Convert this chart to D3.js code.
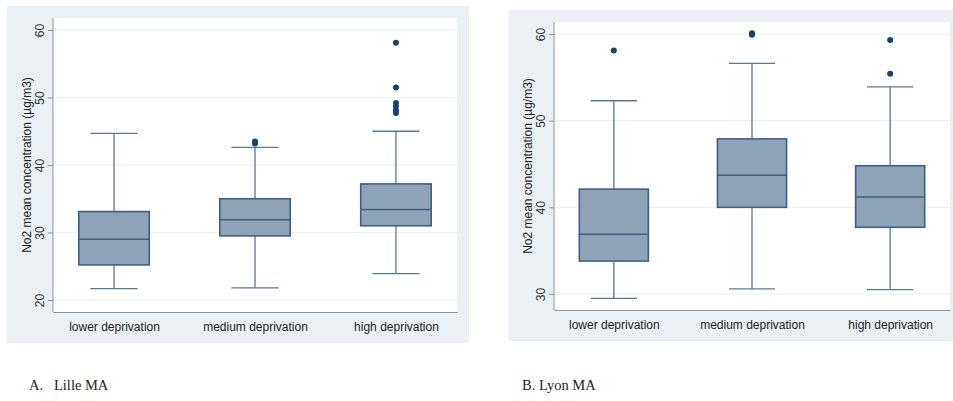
<!DOCTYPE html>
<html>
<head>
<meta charset="utf-8">
<script src="https://cdn.jsdelivr.net/npm/d3@7"></script>
<style>
  body { margin: 0; background: #fff; }
  svg text { font-family: "Liberation Sans", Arial, sans-serif; }
  .caption { font-family: "Liberation Serif", "Times New Roman", serif; font-size: 14.5px; fill: #222; }
</style>
</head>
<body>
<div id="chart"></div>
<script>
var categories = ['lower deprivation', 'medium deprivation', 'high deprivation'];

// Lille MA
var lilleLow  = [21.7, 21.8, 23.9];
var lilleQ1   = [25.2, 29.5, 31.0];
var lilleMed  = [29.0, 31.9, 33.4];
var lilleQ3   = [33.1, 35.0, 37.2];
var lilleHigh = [44.7, 42.6, 45.0];
var lilleOutliers = [[], [43.2, 43.5], [58.1, 51.5, 49.2, 48.7, 48.1, 47.7]];
var lilleTicks = [20, 30, 40, 50, 60];

// Lyon MA
var lyonLow  = [29.5, 30.6, 30.5];
var lyonQ1   = [33.8, 40.0, 37.7];
var lyonMed  = [36.9, 43.7, 41.2];
var lyonQ3   = [42.1, 47.9, 44.8];
var lyonHigh = [52.3, 56.6, 53.9];
var lyonOutliers = [[58.1], [59.9, 60.1], [59.3, 55.4]];
var lyonTicks = [30, 40, 50, 60];

var yTitle = 'No2 mean concentration (\u00b5g/m3)';

var svg = d3.select('#chart').append('svg')
  .attr('width', 953)
  .attr('height', 401);

/*
 * Draw one Stata-style box plot panel. BG is the outer grey frame,
 * PLOT is the white plot region, YDOM the y range mapped onto it.
 */
function drawPanel(bg, plot, ydom, ticks, low, q1, med, q3, high, outliers, caption) {
  var g = svg.append('g');
  g.append('rect')
    .attr('x', bg.x).attr('y', bg.y)
    .attr('width', bg.w).attr('height', bg.h)
    .attr('fill', '#eaf0f3');
  g.append('rect')
    .attr('x', plot.x).attr('y', plot.y)
    .attr('width', plot.w).attr('height', plot.h)
    .attr('fill', '#fff');

  var y = d3.scaleLinear().domain(ydom).range([ydom.yb, ydom.yt]);
  var x = d3.scalePoint()
    .domain(categories)
    .range([plot.x, plot.x + plot.w])
    .padding(0.433);
  var step = x.step();

  // grid
  g.append('g')
    .selectAll('line')
    .data(ticks)
    .enter()
    .append('line')
    .attr('x1', plot.x + 1).attr('x2', plot.x + plot.w)
    .attr('y1', function(d) { return y(d); })
    .attr('y2', function(d) { return y(d); })
    .attr('stroke', '#eaf0f3')
    .attr('stroke-width', 1.2);

  // y axis
  var yAxis = d3.axisLeft(y)
    .tickValues(ticks)
    .tickSizeInner(5)
    .tickSizeOuter(0);
  var ya = g.append('g')
    .attr('transform', 'translate(' + plot.x + ',0)')
    .call(yAxis);
  ya.select('.domain').remove();
  ya.selectAll('.tick line').attr('stroke', '#8a9298');
  ya.selectAll('.tick text')
    .attr('fill', '#333')
    .attr('font-size', 12)
    .attr('text-anchor', 'middle')
    .attr('dy', 0)
    .attr('x', 0)
    .attr('transform', 'translate(-9,0) rotate(-90)');
  g.append('line')
    .attr('x1', plot.x).attr('x2', plot.x)
    .attr('y1', plot.y).attr('y2', plot.y + plot.h)
    .attr('stroke', '#8a9298');

  // x axis
  var xAxis = d3.axisBottom(x).tickSize(0).tickPadding(10);
  var xa = g.append('g')
    .attr('transform', 'translate(0,' + (plot.y + plot.h) + ')')
    .call(xAxis);
  xa.select('.domain').attr('stroke', '#8a9298');
  xa.selectAll('.tick text').attr('fill', '#222').attr('font-size', 12);

  // y title
  g.append('text')
    .attr('transform', 'translate(' + (plot.x - 22) + ',' + (plot.y + plot.h / 2) + ') rotate(-90)')
    .attr('text-anchor', 'middle')
    .attr('font-size', 12)
    .attr('fill', '#222')
    .text(yTitle);

  var boxW = step * 0.5;
  var capW = step * 0.335;
  var stroke = '#3f5f82';
  var boxes = g.append('g')
    .selectAll('g')
    .data(categories)
    .enter()
    .append('g');

  boxes.append('line')
    .attr('x1', function(d) { return x(d); })
    .attr('x2', function(d) { return x(d); })
    .attr('y1', function(d, i) { return y(high[i]); })
    .attr('y2', function(d, i) { return y(low[i]); })
    .attr('stroke', '#5a7698').attr('stroke-width', 1.3);
  boxes.append('line')
    .attr('x1', function(d) { return x(d) - capW / 2; })
    .attr('x2', function(d) { return x(d) + capW / 2; })
    .attr('y1', function(d, i) { return y(high[i]); })
    .attr('y2', function(d, i) { return y(high[i]); })
    .attr('stroke', '#5a7698').attr('stroke-width', 1.3);
  boxes.append('line')
    .attr('x1', function(d) { return x(d) - capW / 2; })
    .attr('x2', function(d) { return x(d) + capW / 2; })
    .attr('y1', function(d, i) { return y(low[i]); })
    .attr('y2', function(d, i) { return y(low[i]); })
    .attr('stroke', '#5a7698').attr('stroke-width', 1.3);
  boxes.append('rect')
    .attr('x', function(d) { return x(d) - boxW / 2; })
    .attr('width', boxW)
    .attr('y', function(d, i) { return y(q3[i]); })
    .attr('height', function(d, i) { return y(q1[i]) - y(q3[i]); })
    .attr('fill', '#8ea3b8')
    .attr('stroke', stroke)
    .attr('stroke-width', 1.6);
  boxes.append('line')
    .attr('x1', function(d) { return x(d) - boxW / 2; })
    .attr('x2', function(d) { return x(d) + boxW / 2; })
    .attr('y1', function(d, i) { return y(med[i]); })
    .attr('y2', function(d, i) { return y(med[i]); })
    .attr('stroke', stroke).attr('stroke-width', 1.6);
  boxes.each(function(d, i) {
    d3.select(this).selectAll('circle')
      .data(outliers[i])
      .enter()
      .append('circle')
      .attr('cx', x(d))
      .attr('cy', function(v) { return y(v); })
      .attr('r', 3)
      .attr('fill', '#1a416b');
  });

  svg.append('text')
    .attr('class', 'caption')
    .attr('x', caption.x)
    .attr('y', 390)
    .attr('xml:space', 'preserve')
    .text(caption.text);
}

var lilleDom = [20, 60]; lilleDom.yb = 300; lilleDom.yt = 30;
var lyonDom = [30, 60]; lyonDom.yb = 294; lyonDom.yt = 34;

drawPanel({x: 7, y: 6, w: 462, h: 337}, {x: 53, y: 18, w: 404, h: 294},
  lilleDom, lilleTicks, lilleLow, lilleQ1, lilleMed, lilleQ3, lilleHigh, lilleOutliers,
  {x: 29, text: 'A.   Lille MA'});
drawPanel({x: 509, y: 10, w: 444, h: 331}, {x: 554, y: 22, w: 396, h: 288},
  lyonDom, lyonTicks, lyonLow, lyonQ1, lyonMed, lyonQ3, lyonHigh, lyonOutliers,
  {x: 522, text: 'B. Lyon MA'});
</script>
</body>
</html>
